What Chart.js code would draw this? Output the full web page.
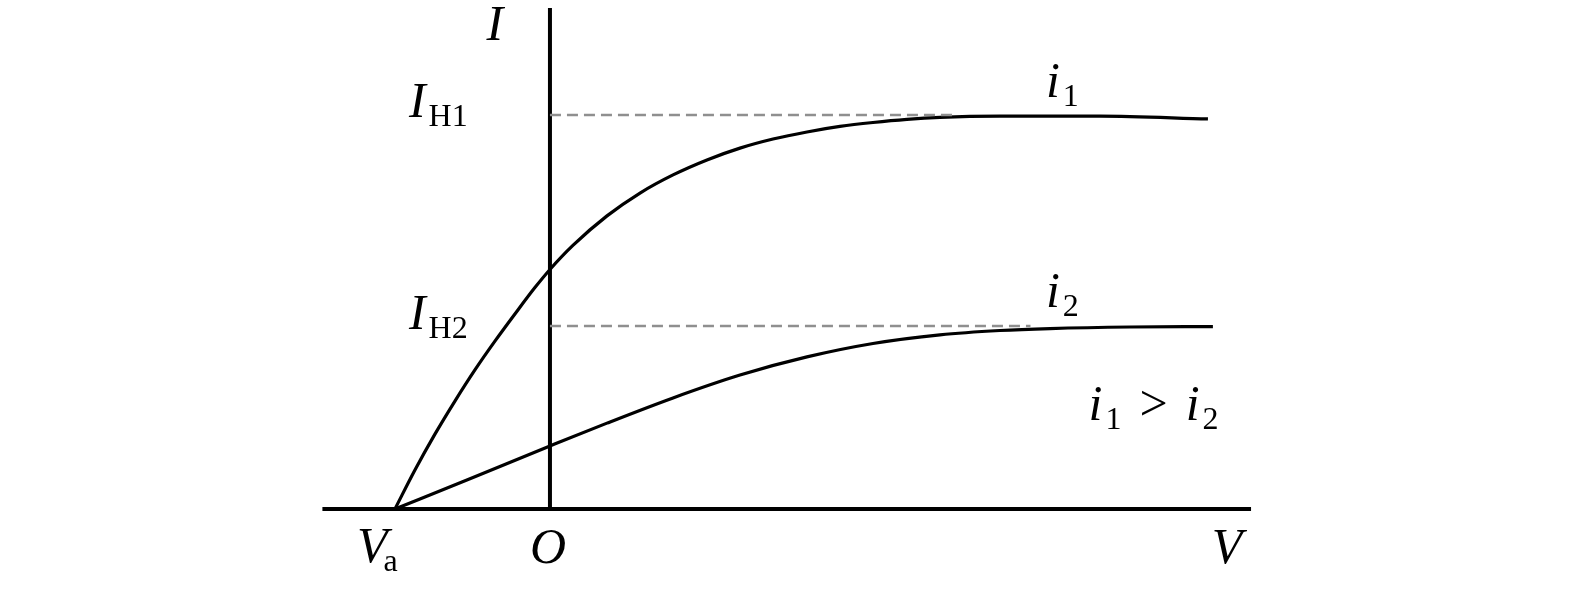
<!DOCTYPE html>
<html>
<head>
<meta charset="utf-8">
<script src="https://cdn.jsdelivr.net/npm/chart.js@4.4.1/dist/chart.umd.min.js"></script>
<style>
  body { margin: 0; background: #fff; }
  canvas { display: block; }
</style>
</head>
<body>
<canvas id="ivChart" width="1575" height="591"></canvas>
<script>
// photocurrent curves, V in units of |Va|, I in units of I_H1
const i1Voltage = [-1, -0.871, -0.742, -0.613, -0.484, -0.355, -0.226, -0.097, 0, 0.148, 0.368, 0.581, 0.794, 1.013, 1.226, 1.439, 1.658, 1.871, 2.084, 2.303, 2.516, 2.903, 3.548, 4.245]
const i1Current = [0, 0.099, 0.190, 0.274, 0.353, 0.426, 0.495, 0.562, 0.608, 0.669, 0.744, 0.802, 0.848, 0.886, 0.916, 0.939, 0.957, 0.971, 0.981, 0.989, 0.994, 0.997, 0.997, 0.990]

const i2Voltage = [-1, -0.516, 0, 0.368, 0.794, 1.226, 1.658, 2.084, 2.516, 2.903, 3.226, 3.742, 4.277]
const i2Current = [0, 0.077, 0.160, 0.218, 0.282, 0.340, 0.386, 0.420, 0.442, 0.453, 0.458, 0.462, 0.463]

const saturation = [1, 0.4645]          // I_H1, I_H2
const dashEnd = [2.6, 3.1]               // where the dashed guides meet the curves
const voltageAxis = [-1.468, 4.523]
const currentAxisTop = 1.2716

const xRange = [-3.548, 6.613]
const yRange = [-0.2081, 1.2919]

function toPoints(xs, ys) {
  return xs.map((x, i) => ({ x: x, y: ys[i] }))
}

// text labels, anchored in data units; each is a list of runs
const serif = "'Liberation Serif', 'DejaVu Serif', serif"
const labels = [
  { x: -0.355, y: 1.190, align: 'center', runs: [{ t: 'I', it: true }] },
  { x: -0.910, y: 0.995, runs: [{ t: 'I', it: true }, { t: 'H1', sub: true, gap: 3 }] },
  { x: -0.910, y: 0.457, runs: [{ t: 'I', it: true }, { t: 'H2', sub: true, gap: 3 }] },
  { x: 3.200, y: 1.046, runs: [{ t: 'i', it: true }, { t: '1', sub: true, gap: 3 }] },
  { x: 3.200, y: 0.513, runs: [{ t: 'i', it: true }, { t: '2', sub: true, gap: 3 }] },
  { x: 3.475, y: 0.226, runs: [{ t: 'i', it: true }, { t: '1', sub: true, gap: 3 }, { t: '>', gap: 18 }, { t: 'i', it: true, gap: 18 }, { t: '2', sub: true, gap: 3 }] },
  { x: -1.245, y: -0.135, runs: [{ t: 'V', it: true }, { t: 'a', sub: true, gap: -4 }] },
  { x: -0.013, y: -0.137, align: 'center', runs: [{ t: 'O', it: true }] },
  { x: 4.27, y: -0.137, runs: [{ t: 'V', it: true }] }
]

function runFont(r) {
  if (r.sub) return `32px ${serif}`
  return `${r.it ? 'italic ' : ''}50px ${serif}`
}

const labelPlugin = {
  id: 'labelPlugin',
  afterDatasetsDraw(chart) {
    let ctx = chart.ctx
    let xs = chart.scales.x
    let ys = chart.scales.y
    ctx.save()
    ctx.fillStyle = '#000'
    ctx.textBaseline = 'alphabetic'
    ctx.textAlign = 'left'
    labels.forEach(lab => {
      let total = 0
      lab.runs.forEach(r => {
        ctx.font = runFont(r)
        total += ctx.measureText(r.t).width + (r.gap || 0)
      })
      let px = xs.getPixelForValue(lab.x)
      let py = ys.getPixelForValue(lab.y)
      if (lab.align === 'center') px -= total / 2
      lab.runs.forEach(r => {
        ctx.font = runFont(r)
        px += r.gap || 0
        ctx.fillText(r.t, px, py + (r.sub ? 9 : 0))
        px += ctx.measureText(r.t).width
      })
    })
    ctx.restore()
  }
}

const curveStyle = { showLine: true, pointRadius: 0, borderColor: '#000', borderWidth: 3.2, fill: false }
const guideStyle = { showLine: true, pointRadius: 0, borderColor: '#8f8f8f', borderWidth: 2.5, borderDash: [11, 6], fill: false }
const axisStyle = { showLine: true, pointRadius: 0, borderColor: '#000', borderWidth: 4, fill: false }

let chart = new Chart(document.getElementById('ivChart'), {
  type: 'scatter',
  data: {
    datasets: [
      Object.assign({ label: 'I_H1 guide', data: [{ x: 0, y: saturation[0] }, { x: dashEnd[0], y: saturation[0] }] }, guideStyle),
      Object.assign({ label: 'I_H2 guide', data: [{ x: 0, y: saturation[1] }, { x: dashEnd[1], y: saturation[1] }] }, guideStyle),
      Object.assign({ label: 'V axis', data: [{ x: voltageAxis[0], y: 0 }, { x: voltageAxis[1], y: 0 }] }, axisStyle),
      Object.assign({ label: 'I axis', data: [{ x: 0, y: 0 }, { x: 0, y: currentAxisTop }] }, axisStyle),
      Object.assign({ label: 'i1', data: toPoints(i1Voltage, i1Current), cubicInterpolationMode: 'monotone' }, curveStyle),
      Object.assign({ label: 'i2', data: toPoints(i2Voltage, i2Current), cubicInterpolationMode: 'monotone' }, curveStyle)
    ]
  },
  options: {
    responsive: false,
    animation: false,
    devicePixelRatio: 1,
    layout: { padding: 0 },
    plugins: {
      legend: { display: false },
      tooltip: { enabled: false }
    },
    scales: {
      x: { type: 'linear', min: xRange[0], max: xRange[1], display: false },
      y: { type: 'linear', min: yRange[0], max: yRange[1], display: false }
    }
  },
  plugins: [labelPlugin]
})
</script>
</body>
</html>
